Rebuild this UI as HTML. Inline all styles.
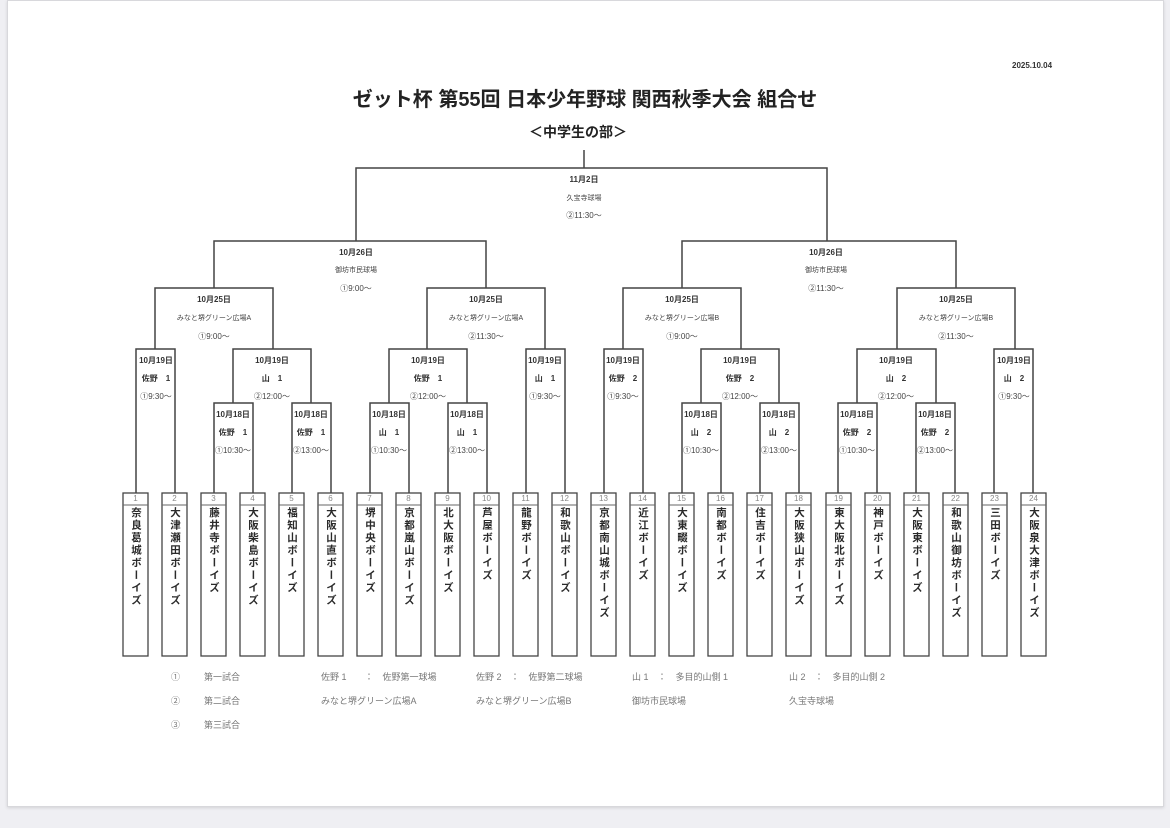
<!DOCTYPE html>
<html><head><meta charset="utf-8">
<style>
html,body{margin:0;padding:0;}
body{width:1170px;height:828px;background:#efeff3;position:relative;overflow:hidden;font-family:"Liberation Sans","Noto Sans CJK JP",sans-serif;}
.page{position:absolute;left:7px;top:0;width:1155px;height:805px;background:#fff;border:1px solid #d8d8dc;box-shadow:0 1px 3px rgba(0,0,0,0.12);}
.t{position:absolute;white-space:nowrap;color:#222;}
.c{transform:translateX(-50%);text-align:center;}
.lbl{font-size:8px;font-weight:bold;color:#333;}
.sm{font-size:7px;color:#444;}
.tm{font-size:8px;color:#444;}
.team{position:absolute;top:507px;width:25px;writing-mode:vertical-rl;font-size:10.5px;font-weight:bold;letter-spacing:2px;color:#2a2a2a;line-height:25px;}
.num{position:absolute;top:493px;width:25px;text-align:center;font-size:8px;color:#888;line-height:12px;}
.lg{position:absolute;font-size:9px;color:#777;white-space:nowrap;}
svg{position:absolute;left:0;top:0;}
</style></head><body>
<div class="page"></div>
<svg width="1170" height="828" fill="none" stroke="#444" stroke-width="1.5">
<path d="M584 150V168"/>
<path d="M356 241V168H827V241"/>
<path d="M214 288V241H486V288"/>
<path d="M682 288V241H956V288"/>
<path d="M155 349V288H273V349"/>
<path d="M427 349V288H545V349"/>
<path d="M623 349V288H741V349"/>
<path d="M897 349V288H1015V349"/>
<path d="M136 493V349H175V493"/>
<path d="M233 403V349H311V403"/>
<path d="M389 403V349H467V403"/>
<path d="M526 493V349H565V493"/>
<path d="M604 493V349H643V493"/>
<path d="M701 403V349H779V403"/>
<path d="M857 403V349H936V403"/>
<path d="M994 493V349H1033V493"/>
<path d="M214 493V403H253V493"/>
<path d="M292 493V403H331V493"/>
<path d="M370 493V403H409V493"/>
<path d="M448 493V403H487V493"/>
<path d="M682 493V403H721V493"/>
<path d="M760 493V403H799V493"/>
<path d="M838 493V403H877V493"/>
<path d="M916 493V403H955V493"/>
<g stroke-width="1.3">
<rect x="123" y="493" width="25" height="163"/><rect x="162" y="493" width="25" height="163"/>
<rect x="201" y="493" width="25" height="163"/><rect x="240" y="493" width="25" height="163"/>
<rect x="279" y="493" width="25" height="163"/><rect x="318" y="493" width="25" height="163"/>
<rect x="357" y="493" width="25" height="163"/><rect x="396" y="493" width="25" height="163"/>
<rect x="435" y="493" width="25" height="163"/><rect x="474" y="493" width="25" height="163"/>
<rect x="513" y="493" width="25" height="163"/><rect x="552" y="493" width="25" height="163"/>
<rect x="591" y="493" width="25" height="163"/><rect x="630" y="493" width="25" height="163"/>
<rect x="669" y="493" width="25" height="163"/><rect x="708" y="493" width="25" height="163"/>
<rect x="747" y="493" width="25" height="163"/><rect x="786" y="493" width="25" height="163"/>
<rect x="826" y="493" width="25" height="163"/><rect x="865" y="493" width="25" height="163"/>
<rect x="904" y="493" width="25" height="163"/><rect x="943" y="493" width="25" height="163"/>
<rect x="982" y="493" width="25" height="163"/><rect x="1021" y="493" width="25" height="163"/>
</g>
<g stroke="#666" stroke-width="1">
<path d="M123 505h25M162 505h25M201 505h25M240 505h25M279 505h25M318 505h25M357 505h25M396 505h25M435 505h25M474 505h25M513 505h25M552 505h25M591 505h25M630 505h25M669 505h25M708 505h25M747 505h25M786 505h25M826 505h25M865 505h25M904 505h25M943 505h25M982 505h25M1021 505h25"/>
</g>
</svg>

<div class="t" style="left:1012px;top:61px;font-size:8px;font-weight:bold;color:#333;">2025.10.04</div>
<div class="t c" style="left:585px;top:83px;font-size:20px;font-weight:bold;">ゼット杯 第55回 日本少年野球 関西秋季大会 組合せ</div>
<div class="t c" style="left:578px;top:122px;font-size:14px;font-weight:bold;">＜中学生の部＞</div>

<div class="t c lbl" style="left:584px;top:174px;">11月2日</div>
<div class="t c sm" style="left:584px;top:193px;">久宝寺球場</div>
<div class="t c tm" style="left:584px;top:210px;">②11:30〜</div>
<div class="t c lbl" style="left:356px;top:247px;">10月26日</div>
<div class="t c sm" style="left:356px;top:265px;">御坊市民球場</div>
<div class="t c tm" style="left:356px;top:283px;">①9:00〜</div>
<div class="t c lbl" style="left:826px;top:247px;">10月26日</div>
<div class="t c sm" style="left:826px;top:265px;">御坊市民球場</div>
<div class="t c tm" style="left:826px;top:283px;">②11:30〜</div>
<div class="t c lbl" style="left:214px;top:294px;">10月25日</div>
<div class="t c sm" style="left:214px;top:313px;">みなと堺グリーン広場A</div>
<div class="t c tm" style="left:214px;top:331px;">①9:00〜</div>
<div class="t c lbl" style="left:486px;top:294px;">10月25日</div>
<div class="t c sm" style="left:486px;top:313px;">みなと堺グリーン広場A</div>
<div class="t c tm" style="left:486px;top:331px;">②11:30〜</div>
<div class="t c lbl" style="left:682px;top:294px;">10月25日</div>
<div class="t c sm" style="left:682px;top:313px;">みなと堺グリーン広場B</div>
<div class="t c tm" style="left:682px;top:331px;">①9:00〜</div>
<div class="t c lbl" style="left:956px;top:294px;">10月25日</div>
<div class="t c sm" style="left:956px;top:313px;">みなと堺グリーン広場B</div>
<div class="t c tm" style="left:956px;top:331px;">②11:30〜</div>
<div class="t c lbl" style="left:156px;top:355px;">10月19日</div><div class="t c lbl" style="left:156px;top:373px;">佐野　1</div><div class="t c tm" style="left:156px;top:391px;">①9:30〜</div>
<div class="t c lbl" style="left:272px;top:355px;">10月19日</div><div class="t c lbl" style="left:272px;top:373px;">山　1</div><div class="t c tm" style="left:272px;top:391px;">②12:00〜</div>
<div class="t c lbl" style="left:428px;top:355px;">10月19日</div><div class="t c lbl" style="left:428px;top:373px;">佐野　1</div><div class="t c tm" style="left:428px;top:391px;">②12:00〜</div>
<div class="t c lbl" style="left:545px;top:355px;">10月19日</div><div class="t c lbl" style="left:545px;top:373px;">山　1</div><div class="t c tm" style="left:545px;top:391px;">①9:30〜</div>
<div class="t c lbl" style="left:623px;top:355px;">10月19日</div><div class="t c lbl" style="left:623px;top:373px;">佐野　2</div><div class="t c tm" style="left:623px;top:391px;">①9:30〜</div>
<div class="t c lbl" style="left:740px;top:355px;">10月19日</div><div class="t c lbl" style="left:740px;top:373px;">佐野　2</div><div class="t c tm" style="left:740px;top:391px;">②12:00〜</div>
<div class="t c lbl" style="left:896px;top:355px;">10月19日</div><div class="t c lbl" style="left:896px;top:373px;">山　2</div><div class="t c tm" style="left:896px;top:391px;">②12:00〜</div>
<div class="t c lbl" style="left:1014px;top:355px;">10月19日</div><div class="t c lbl" style="left:1014px;top:373px;">山　2</div><div class="t c tm" style="left:1014px;top:391px;">①9:30〜</div>
<div class="t c lbl" style="left:233px;top:409px;">10月18日</div><div class="t c lbl" style="left:233px;top:427px;">佐野　1</div><div class="t c tm" style="left:233px;top:445px;">①10:30〜</div>
<div class="t c lbl" style="left:311px;top:409px;">10月18日</div><div class="t c lbl" style="left:311px;top:427px;">佐野　1</div><div class="t c tm" style="left:311px;top:445px;">②13:00〜</div>
<div class="t c lbl" style="left:389px;top:409px;">10月18日</div><div class="t c lbl" style="left:389px;top:427px;">山　1</div><div class="t c tm" style="left:389px;top:445px;">①10:30〜</div>
<div class="t c lbl" style="left:467px;top:409px;">10月18日</div><div class="t c lbl" style="left:467px;top:427px;">山　1</div><div class="t c tm" style="left:467px;top:445px;">②13:00〜</div>
<div class="t c lbl" style="left:701px;top:409px;">10月18日</div><div class="t c lbl" style="left:701px;top:427px;">山　2</div><div class="t c tm" style="left:701px;top:445px;">①10:30〜</div>
<div class="t c lbl" style="left:779px;top:409px;">10月18日</div><div class="t c lbl" style="left:779px;top:427px;">山　2</div><div class="t c tm" style="left:779px;top:445px;">②13:00〜</div>
<div class="t c lbl" style="left:857px;top:409px;">10月18日</div><div class="t c lbl" style="left:857px;top:427px;">佐野　2</div><div class="t c tm" style="left:857px;top:445px;">①10:30〜</div>
<div class="t c lbl" style="left:935px;top:409px;">10月18日</div><div class="t c lbl" style="left:935px;top:427px;">佐野　2</div><div class="t c tm" style="left:935px;top:445px;">②13:00〜</div>

<div class="num" style="left:123px">1</div><div class="num" style="left:162px">2</div><div class="num" style="left:201px">3</div><div class="num" style="left:240px">4</div>
<div class="num" style="left:279px">5</div><div class="num" style="left:318px">6</div><div class="num" style="left:357px">7</div><div class="num" style="left:396px">8</div>
<div class="num" style="left:435px">9</div><div class="num" style="left:474px">10</div><div class="num" style="left:513px">11</div><div class="num" style="left:552px">12</div>
<div class="num" style="left:591px">13</div><div class="num" style="left:630px">14</div><div class="num" style="left:669px">15</div><div class="num" style="left:708px">16</div>
<div class="num" style="left:747px">17</div><div class="num" style="left:786px">18</div><div class="num" style="left:826px">19</div><div class="num" style="left:865px">20</div>
<div class="num" style="left:904px">21</div><div class="num" style="left:943px">22</div><div class="num" style="left:982px">23</div><div class="num" style="left:1021px">24</div>

<div class="team" style="left:123px">奈良葛城ボーイズ</div>
<div class="team" style="left:162px">大津瀬田ボーイズ</div>
<div class="team" style="left:201px">藤井寺ボーイズ</div>
<div class="team" style="left:240px">大阪柴島ボーイズ</div>
<div class="team" style="left:279px">福知山ボーイズ</div>
<div class="team" style="left:318px">大阪山直ボーイズ</div>
<div class="team" style="left:357px">堺中央ボーイズ</div>
<div class="team" style="left:396px">京都嵐山ボーイズ</div>
<div class="team" style="left:435px">北大阪ボーイズ</div>
<div class="team" style="left:474px">芦屋ボーイズ</div>
<div class="team" style="left:513px">龍野ボーイズ</div>
<div class="team" style="left:552px">和歌山ボーイズ</div>
<div class="team" style="left:591px">京都南山城ボーイズ</div>
<div class="team" style="left:630px">近江ボーイズ</div>
<div class="team" style="left:669px">大東畷ボーイズ</div>
<div class="team" style="left:708px">南都ボーイズ</div>
<div class="team" style="left:747px">住吉ボーイズ</div>
<div class="team" style="left:786px">大阪狭山ボーイズ</div>
<div class="team" style="left:826px">東大阪北ボーイズ</div>
<div class="team" style="left:865px">神戸ボーイズ</div>
<div class="team" style="left:904px">大阪東ボーイズ</div>
<div class="team" style="left:943px">和歌山御坊ボーイズ</div>
<div class="team" style="left:982px">三田ボーイズ</div>
<div class="team" style="left:1021px">大阪泉大津ボーイズ</div>

<div class="lg" style="left:171px;top:670px;">①</div><div class="lg" style="left:204px;top:670px;">第一試合</div>
<div class="lg" style="left:171px;top:694px;">②</div><div class="lg" style="left:204px;top:694px;">第二試合</div>
<div class="lg" style="left:171px;top:718px;">③</div><div class="lg" style="left:204px;top:718px;">第三試合</div>
<div class="lg" style="left:321px;top:670px;">佐野 1　　：　佐野第一球場</div>
<div class="lg" style="left:321px;top:694px;">みなと堺グリーン広場A</div>
<div class="lg" style="left:476px;top:670px;">佐野 2　：　佐野第二球場</div>
<div class="lg" style="left:476px;top:694px;">みなと堺グリーン広場B</div>
<div class="lg" style="left:632px;top:670px;">山 1　：　多目的山側 1</div>
<div class="lg" style="left:632px;top:694px;">御坊市民球場</div>
<div class="lg" style="left:789px;top:670px;">山 2　：　多目的山側 2</div>
<div class="lg" style="left:789px;top:694px;">久宝寺球場</div>
</body></html>
